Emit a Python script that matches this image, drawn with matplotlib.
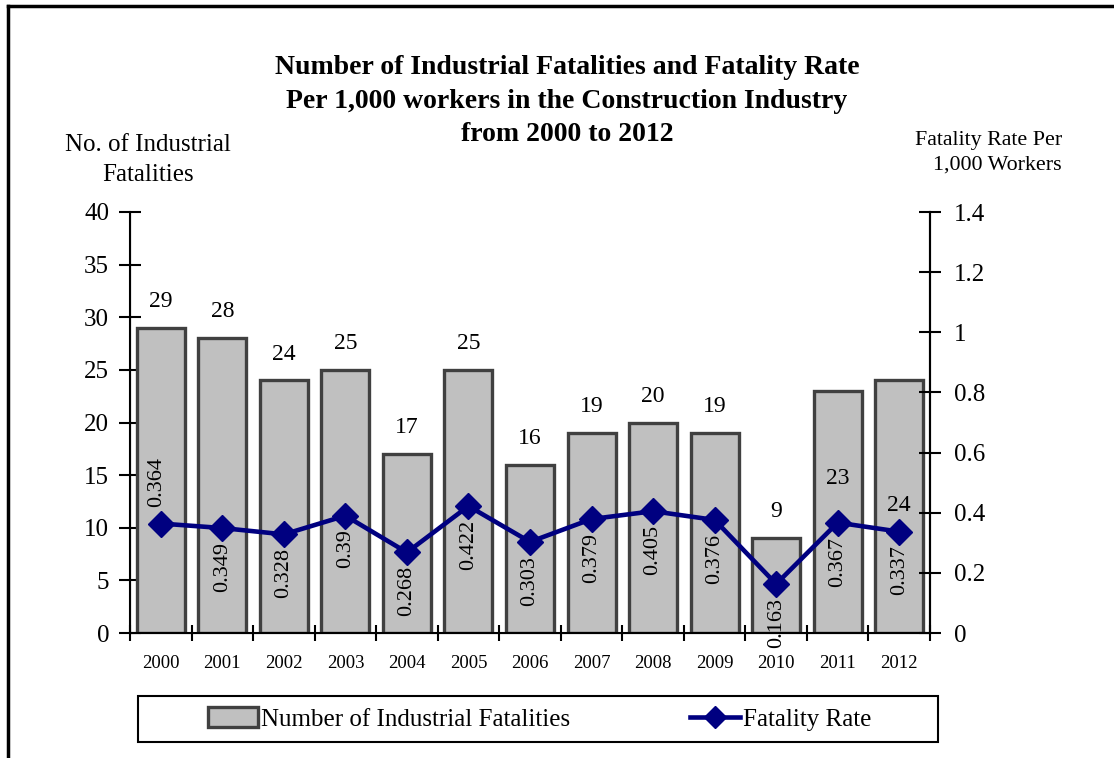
"""
plot.py - construction industry fatalities and fatality rate, 2000-2012
"""

import matplotlib

matplotlib.use("Agg")

import matplotlib.pyplot as plt
from matplotlib.lines import Line2D
from matplotlib.patches import Rectangle

years = ["2000", "2001", "2002", "2003", "2004", "2005", "2006",
         "2007", "2008", "2009", "2010", "2011", "2012"]
fatalities = [29, 28, 24, 25, 17, 25, 16, 19, 20, 19, 9, 23, 24]
fatality_rate = [0.364, 0.349, 0.328, 0.39, 0.268, 0.422, 0.303,
                 0.379, 0.405, 0.376, 0.163, 0.367, 0.337]
rate_labels = ["0.364", "0.349", "0.328", "0.39", "0.268", "0.422", "0.303",
               "0.379", "0.405", "0.376", "0.163", "0.367", "0.337"]

left_ticks = [0, 5, 10, 15, 20, 25, 30, 35, 40]
right_ticks = [0, 0.2, 0.4, 0.6, 0.8, 1.0, 1.2, 1.4]
right_tick_labels = ["0", "0.2", "0.4", "0.6", "0.8", "1", "1.2", "1.4"]

# label placement (points) - the last two bar labels were dragged down in the original
bar_label_offsets = [19, 19, 19, 19, 19, 19, 19, 19, 19, 19, 19, -63, -90]
rate_label_above = [True] + [False] * 12

plt.rcParams["font.family"] = ["Liberation Serif", "DejaVu Serif"]

fig = plt.figure(figsize=(11.14, 7.58), dpi=100)

# -------------------------
# Outer border
# -------------------------

fig.add_artist(Line2D([8 / 1114, 1.0], [1 - 6 / 758, 1 - 6 / 758],
                      color="black", linewidth=2.5))
fig.add_artist(Line2D([8 / 1114, 8 / 1114], [0.0, 1 - 6 / 758],
                      color="black", linewidth=2.5))

ax = fig.add_axes([130 / 1114, 1 - 633 / 758, 800 / 1114, 421 / 758])
ax2 = ax.twinx()

x = list(range(len(years)))

# -------------------------
# Bars
# -------------------------

bars = ax.bar(x, fatalities, width=0.78, color="#c0c0c0",
              edgecolor="#404040", linewidth=2.4, zorder=2)

for xi, val, off in zip(x, fatalities, bar_label_offsets):
    ax.annotate(str(val), (xi, val), xytext=(0, off),
                textcoords="offset points", ha="center", va="center",
                fontsize=17)

ax.set_xlim(-0.5, len(years) - 0.5)
ax.set_ylim(0, 40)
ax.set_yticks(left_ticks)
ax.set_yticklabels([str(t) for t in left_ticks], fontsize=18)
ax.set_xticks(x)
ax.set_xticklabels(years, fontsize=13.5)
ax.set_xticks([i - 0.5 for i in range(len(years) + 1)], minor=True)
ax.tick_params(axis="x", which="major", length=0, pad=16)
ax.tick_params(axis="x", which="minor", direction="inout", length=12, width=1.5)
ax.tick_params(axis="y", direction="inout", length=16, width=1.5, pad=7)

for side in ["left", "bottom", "right"]:
    ax.spines[side].set_linewidth(1.5)
ax.spines["top"].set_visible(False)

# -------------------------
# Rate line
# -------------------------

ax2.plot(x, fatality_rate, color="#000080", linewidth=3.3, marker="D",
         markersize=13, zorder=3)

for xi, val, txt, above in zip(x, fatality_rate, rate_labels, rate_label_above):
    if above:
        ax2.annotate(txt, (xi, val), xytext=(-3, 12), textcoords="offset points",
                     ha="center", va="bottom", rotation=90, fontsize=16)
    else:
        ax2.annotate(txt, (xi, val), xytext=(0, -10), textcoords="offset points",
                     ha="center", va="top", rotation=90, fontsize=16)

ax2.set_ylim(0, 1.4)
ax2.set_yticks(right_ticks)
ax2.set_yticklabels(right_tick_labels, fontsize=18)
ax2.tick_params(axis="y", direction="inout", length=16, width=1.5, pad=9)
ax2.spines["top"].set_visible(False)
ax2.spines["right"].set_linewidth(1.5)

# -------------------------
# Titles
# -------------------------

fig.text(567 / 1114, 1 - 101 / 758,
         "Number of Industrial Fatalities and Fatality Rate\n"
         "Per 1,000 workers in the Construction Industry\n"
         "from 2000 to 2012",
         ha="center", va="center", fontsize=20, fontweight="bold",
         linespacing=1.47)

fig.text(148 / 1114, 1 - 160 / 758, "No. of Industrial\nFatalities",
         ha="center", va="center", fontsize=18, linespacing=1.52)

fig.text(1062 / 1114, 1 - 153 / 758, "Fatality Rate Per\n1,000 Workers",
         ha="right", va="center", fontsize=15.8, linespacing=1.4,
         multialignment="right")

# -------------------------
# Legend
# -------------------------

fig.add_artist(Rectangle((138 / 1114, 1 - 742 / 758), 800 / 1114, 46 / 758,
                         transform=fig.transFigure, fill=False,
                         edgecolor="black", linewidth=1.5))

handles = [
    Rectangle((0, 0), 1, 1, facecolor="#c0c0c0", edgecolor="#404040",
              linewidth=2.4),
    Line2D([], [], color="#000080", linewidth=3.3, marker="D", markersize=11),
]
fig.legend(handles, ["Number of Industrial Fatalities", "Fatality Rate"],
           loc="center", bbox_to_anchor=(540 / 1114, 1 - 719 / 758),
           ncol=2, frameon=False, fontsize=18, handlelength=2.0,
           handleheight=0.8, handletextpad=0.12, columnspacing=4.8,
           numpoints=1)

fig.savefig("out.png", dpi=100)
